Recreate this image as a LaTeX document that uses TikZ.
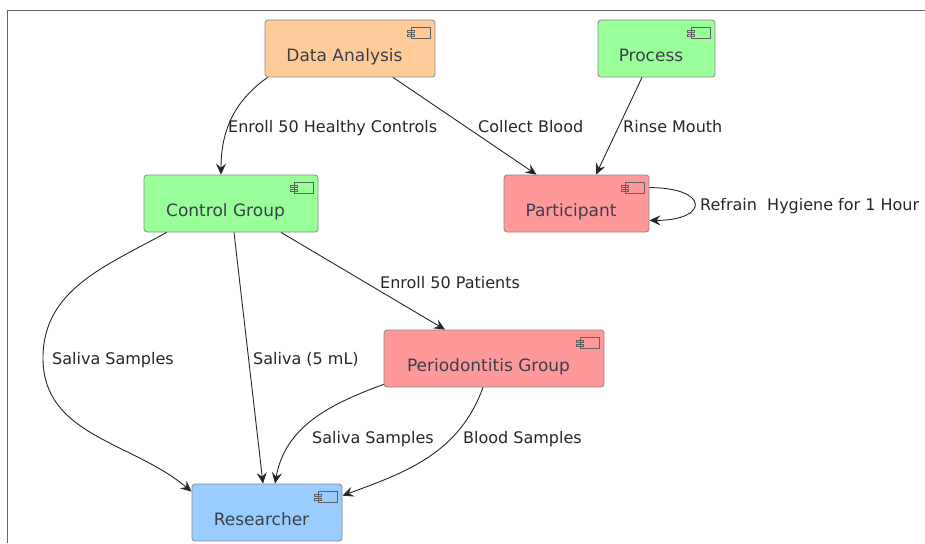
\documentclass[tikz,border=0pt]{standalone}
\usepackage{fontspec}
\setmainfont{DejaVu Sans}
\usetikzlibrary{arrows.meta}

\definecolor{dataorange}{HTML}{FFCC99}
\definecolor{compgreen}{HTML}{99FF99}
\definecolor{compred}{HTML}{FF9999}
\definecolor{compblue}{HTML}{99CCFF}
\definecolor{compline}{HTML}{8A8A8A}
\definecolor{comptext}{HTML}{3A3F4A}

\begin{document}
\begin{tikzpicture}[x=1pt,y=1pt,
    comp/.style={draw=compline, line width=0.8pt, rounded corners=3pt,
        minimum height=57pt, text=comptext,
        font=\fontsize{17}{20}\selectfont, text height=30pt, text depth=4.6pt},
    flow/.style={draw=black!85, line width=0.9pt,
        -{Stealth[length=11pt,width=10pt,inset=4pt]}},
    lbl/.style={anchor=base west, inner sep=0pt, text=black!85,
        font=\fontsize{16}{19}\selectfont}]
            \def \ytop  {-48.5};
            \def \ymid  {-203.5};
            \def \ylow  {-358.5};
            \def \ybot  {-512.5};
            \def \iconpad {\hspace*{11pt}}

            \useasboundingbox (0,0) rectangle (925,-543);
% frame
            \draw [black!60, line width=1.2pt] (925,-10.5) -- (7.5,-10.5) -- (7.5,-543);
% components
            \node [comp, fill=dataorange, minimum width=170pt] (da)    at (350, \ytop)   {Data Analysis\iconpad};
            \node [comp, fill=compgreen,  minimum width=117pt] (proc)  at (656.5, \ytop) {Process\iconpad};
            \node [comp, fill=compgreen,  minimum width=174pt] (ctrl)  at (231, \ymid)   {Control Group\iconpad};
            \node [comp, fill=compred,    minimum width=145pt] (part)  at (576.5, \ymid) {Participant\iconpad};
            \node [comp, fill=compred,    minimum width=220pt] (perio) at (494, \ylow)   {Periodontitis Group\iconpad};
            \node [comp, fill=compblue,   minimum width=150pt] (res)   at (267, \ybot)   {Researcher\iconpad};
% component icons
            \foreach \n in {da, proc, ctrl, part, perio, res} {
                \draw [compline!70!black, line width=0.7pt] ([shift={(-24pt,-8pt)}]\n.north east) rectangle ([shift={(-5pt,-19pt)}]\n.north east);
                \draw [compline!70!black, line width=0.7pt] ([shift={(-28pt,-10.5pt)}]\n.north east) rectangle ([shift={(-21pt,-13pt)}]\n.north east);
                \draw [compline!70!black, line width=0.7pt] ([shift={(-28pt,-14.5pt)}]\n.north east) rectangle ([shift={(-21pt,-17pt)}]\n.north east);
            }
% enrolment
            \draw [flow] ([xshift=3pt]da.south west) to [out=215, in=90] ([xshift=-10pt]ctrl.north);
            \node [lbl] (l1) at (228, -132) {Enroll 50 Healthy Controls};
            \draw [flow] ([xshift=43pt]da.south) -- ([xshift=-40pt]part.north);
            \node [lbl] (l2) at (478, -132) {Collect Blood};
            \draw [flow] ([xshift=-14.5pt]proc.south) -- ([xshift=19.5pt]part.north);
            \node [lbl] (l3) at (623, -132) {Rinse Mouth};
% self loop
            \draw [flow] ([yshift=-13pt]part.north east) to [out=0, in=0, looseness=4.7] ([yshift=12pt]part.south east);
            \node [lbl] (l4) at (700, -210) {Refrain\ \ Hygiene for 1 Hour};
% samples
            \draw [flow] ([xshift=23pt]ctrl.south west) to [out=209, in=90] (43, -358) to [out=270, in=140] ([yshift=-8pt]res.north west);
            \node [lbl] (l5) at (52, -364) {Saliva Samples};
            \draw [flow] ([xshift=3pt]ctrl.south) -- ([xshift=-4pt]res.north);
            \node [lbl] (l6) at (253, -364) {Saliva (5 mL)};
            \draw [flow] ([xshift=50pt]ctrl.south) -- ([xshift=-49pt]perio.north);
            \node [lbl] (l7) at (380, -288) {Enroll 50 Patients};
            \draw [flow] ([yshift=3pt]perio.south west) to [out=200, in=80] ([xshift=8pt]res.north);
            \node [lbl] (l8) at (312, -443) {Saliva Samples};
            \draw [flow] ([xshift=-11pt]perio.south) to [out=250, in=20] ([yshift=-12pt]res.north east);
            \node [lbl] (l9) at (463, -443) {Blood Samples};
        \end{tikzpicture}
\end{document}
